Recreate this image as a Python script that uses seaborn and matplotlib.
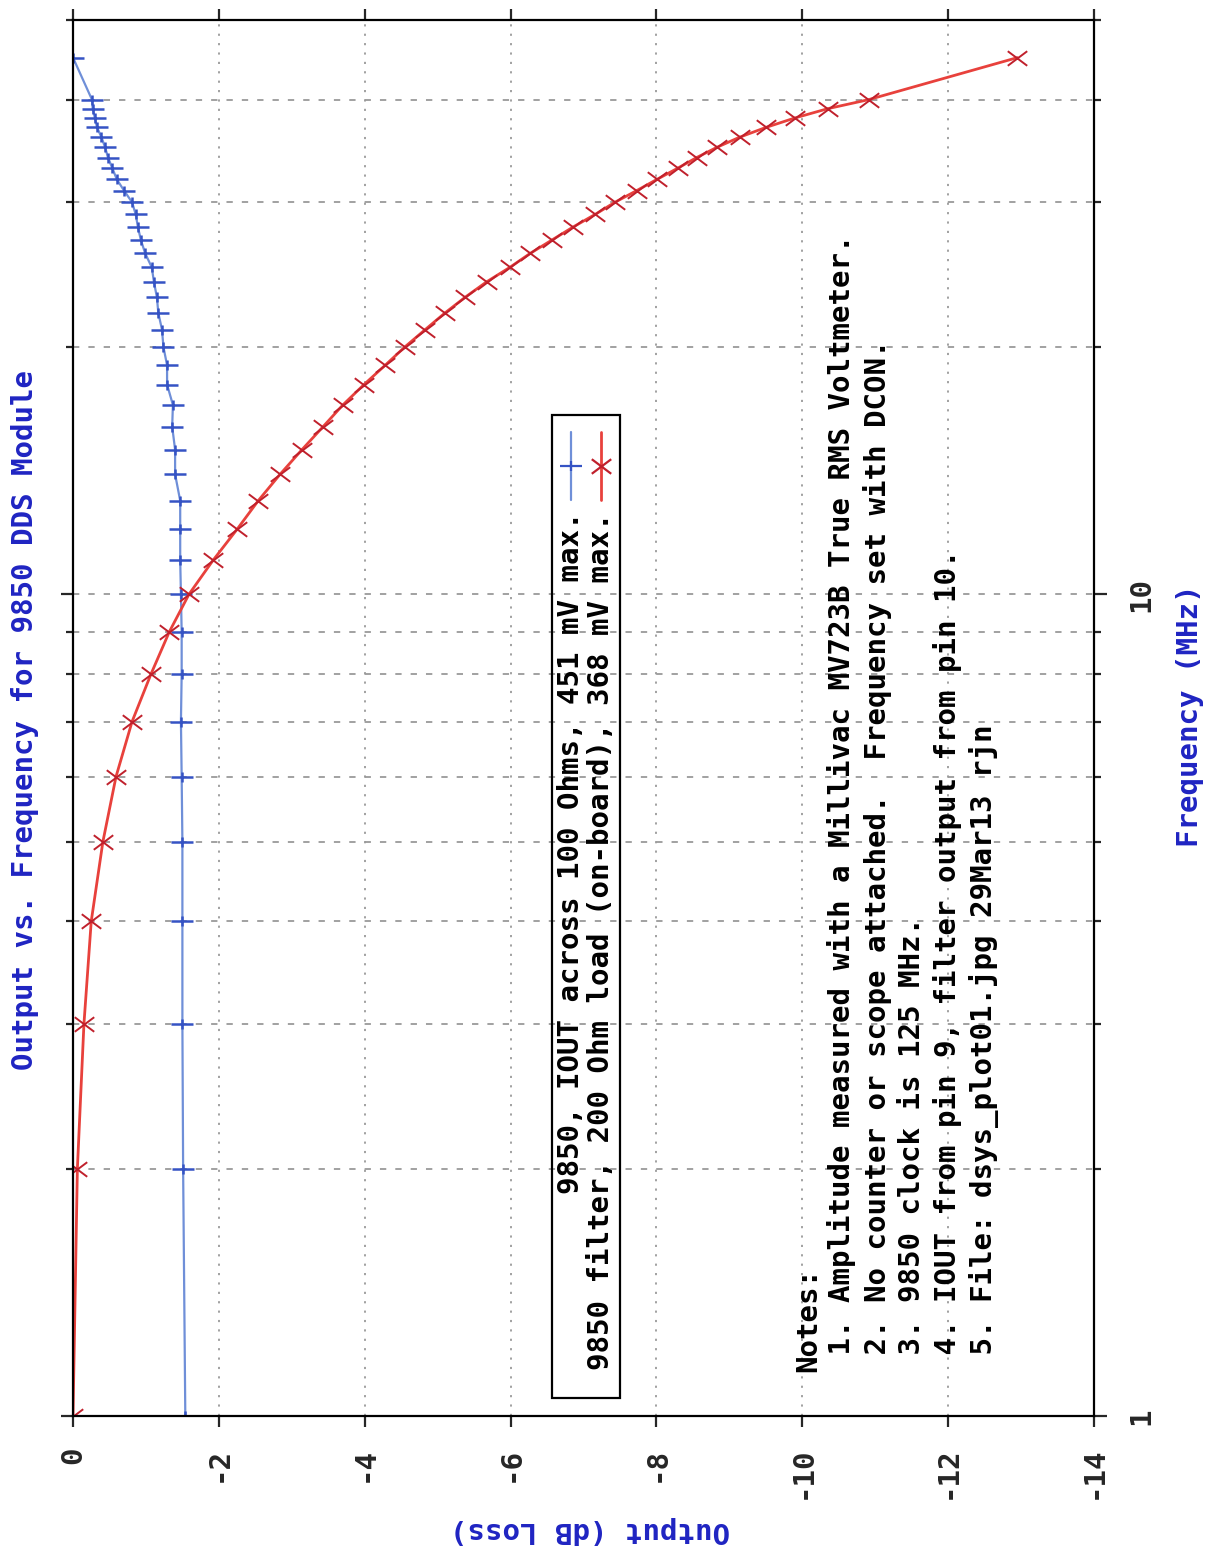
import matplotlib
matplotlib.use("Agg")
import numpy as np
import pandas as pd
import matplotlib.pyplot as plt
import matplotlib.ticker as mticker
from matplotlib.path import Path
from matplotlib.lines import Line2D
from matplotlib.patches import Rectangle
import seaborn as sns

# -----------------------------------------------------------------------------
# Data
# -----------------------------------------------------------------------------
freq_mhz = [1, 2, 3, 4, 5, 6, 7, 8, 9, 10,
            11, 12, 13, 14, 15, 16, 17, 18, 19, 20,
            21, 22, 23, 24, 25, 26, 27, 28, 29, 30,
            31, 32, 33, 34, 35, 36, 37, 38, 39, 40, 45]

iout_db = [-1.54, -1.51, -1.50, -1.50, -1.50, -1.49, -1.48, -1.49, -1.49, -1.48,
           -1.47, -1.47, -1.47, -1.40, -1.40, -1.36, -1.37, -1.29, -1.29, -1.24,
           -1.22, -1.17, -1.15, -1.11, -1.08, -0.99, -0.93, -0.89, -0.86, -0.81,
           -0.70, -0.60, -0.54, -0.48, -0.44, -0.39, -0.33, -0.30, -0.27, -0.26, 0.0]

filter_db = [0.0, -0.06, -0.15, -0.25, -0.41, -0.59, -0.81, -1.07, -1.32, -1.59,
             -1.92, -2.25, -2.54, -2.84, -3.14, -3.43, -3.70, -3.99, -4.28, -4.55,
             -4.83, -5.10, -5.38, -5.67, -5.99, -6.27, -6.57, -6.86, -7.16, -7.43,
             -7.73, -8.01, -8.29, -8.55, -8.83, -9.14, -9.50, -9.90, -10.35, -10.91, -12.95]

db_ticks = [0, -2, -4, -6, -8, -10, -12, -14]
db_tick_labels = ["0", "-2", "-4", "-6", "-8", "-10", "-12", "-14"]
freq_major = [1, 10]
freq_major_labels = ["1", "10"]
freq_minor = [2, 3, 4, 5, 6, 7, 8, 9, 20, 30, 40, 50]

legend_labels = ["9850, IOUT across 100 Ohms, 451 mV max.",
                 "9850 filter, 200 Ohm load (on-board), 368 mV max."]

notes_lines = ["Notes:",
               " 1. Amplitude measured with a Millivac MV723B True RMS Voltmeter.",
               " 2. No counter or scope attached.  Frequency set with DCON.",
               " 3. 9850 clock is 125 MHz.",
               " 4. IOUT from pin 9, filter output from pin 10.",
               " 5. File: dsys_plot01.jpg 29Mar13 rjn"]

title_text = "Output vs. Frequency for 9850 DDS Module"
freq_label = "Frequency (MHz)"
out_label = "Output (dB Loss)"

# -----------------------------------------------------------------------------
# Style
# -----------------------------------------------------------------------------
W, H = 1206, 1550
BLUE_LINE = "#6f8fd8"
BLUE_MARK = "#3553c4"
RED_LINE = "#e8413c"
RED_MARK = "#c0202c"
TEXT_BLUE = "#1f24c2"
GRID = "#9a9a9a"
FS = 21

sns.set_style("white")
plt.rcParams["font.family"] = ["DejaVu Sans Mono", "DejaVu Sans"]
plt.rcParams["font.weight"] = "bold"

# custom markers (rotated gnuplot look)
plus_mk = Path([(-1, 0), (1, 0), (0, -0.45), (0, 0.45)],
               [Path.MOVETO, Path.LINETO, Path.MOVETO, Path.LINETO])
cross_mk = Path([(-1, -0.75), (1, 0.75), (-1, 0.75), (1, -0.75)],
                [Path.MOVETO, Path.LINETO, Path.MOVETO, Path.LINETO])


def fx(px):
    return px / W


def fy(py):
    return 1 - py / H


df = pd.DataFrame({
    "freq": freq_mhz * 2,
    "db": iout_db + filter_db,
    "series": ["iout"] * len(freq_mhz) + ["filter"] * len(freq_mhz),
})

fig = plt.figure(figsize=(W / 100, H / 100), dpi=100)
ax = fig.add_axes([fx(73), fy(1416), fx(1094) - fx(73), fy(20) - fy(1416)])

sns.lineplot(data=df[df["series"] == "iout"], x="db", y="freq", orient="y",
             estimator=None, sort=False, color=BLUE_LINE, lw=1.6,
             marker=plus_mk, markersize=16, markeredgecolor=BLUE_MARK,
             markeredgewidth=1.8, ax=ax, legend=False)
sns.lineplot(data=df[df["series"] == "filter"], x="db", y="freq", orient="y",
             estimator=None, sort=False, color=RED_LINE, lw=2.0,
             marker=cross_mk, markersize=14, markeredgecolor=RED_MARK,
             markeredgewidth=1.4, ax=ax, legend=False)

ax.set_yscale("log")
ax.set_ylim(1, 50)
ax.set_xlim(0, -14)

ax.xaxis.set_major_locator(mticker.FixedLocator(db_ticks))
ax.set_xticklabels(db_tick_labels)
ax.yaxis.set_major_locator(mticker.FixedLocator(freq_major))
ax.yaxis.set_major_formatter(mticker.FixedFormatter(freq_major_labels))
ax.yaxis.set_minor_locator(mticker.FixedLocator(freq_minor))
ax.yaxis.set_minor_formatter(mticker.NullFormatter())

ax.set_xlabel("")
ax.set_ylabel("")

ax.grid(axis="x", which="major", ls=(0, (1.2, 4)), color=GRID, lw=1.3)
ax.grid(axis="y", which="both", ls=(0, (3.5, 5)), color=GRID, lw=1.3)

for s in ax.spines.values():
    s.set_linewidth(1.6)
    s.set_color("black")

ax.tick_params(axis="x", which="major", direction="out", length=8, width=1.6,
               top=True, bottom=True, labelrotation=90, labelsize=FS, pad=14)
ax.tick_params(axis="y", which="major", direction="out", length=9, width=1.6,
               left=True, right=True, labelleft=False, labelright=True,
               labelrotation=90, labelsize=FS, pad=15)
ax.tick_params(axis="y", which="minor", direction="out", length=5, width=1.6,
               left=True, right=True)
for lbl in ax.get_yticklabels():
    lbl.set_va("center")
for lbl in ax.get_xticklabels() + ax.get_yticklabels():
    lbl.set_fontweight("bold")

# -----------------------------------------------------------------------------
# Legend box (drawn rotated, like the source image)
# -----------------------------------------------------------------------------
fig.patches.append(Rectangle((fx(552), fy(1398)), fx(620) - fx(552), fy(415) - fy(1398),
                             transform=fig.transFigure, fill=False,
                             edgecolor="black", lw=1.6))
leg_rows = [(571, BLUE_LINE, BLUE_MARK, plus_mk, 16, 1.6),
            (601, RED_LINE, RED_MARK, cross_mk, 14, 2.0)]
for (xc, lc, mc, mk, ms, lw), txt in zip(leg_rows, legend_labels):
    fig.lines.append(Line2D([fx(xc), fx(xc)], [fy(500), fy(432)],
                            transform=fig.transFigure, color=lc, lw=lw))
    fig.lines.append(Line2D([fx(xc)], [fy(466)], transform=fig.transFigure,
                            marker=mk, markersize=ms, markeredgecolor=mc,
                            markeredgewidth=1.6, color=lc, lw=0))
    fig.text(fx(xc), fy(512), txt, rotation=90, rotation_mode="anchor",
             ha="right", va="center", fontsize=FS, fontweight="bold", color="black")

# -----------------------------------------------------------------------------
# Notes
# -----------------------------------------------------------------------------
note_x = [808, 842, 877, 912, 948, 984]
for xc, line in zip(note_x, notes_lines):
    fig.text(fx(xc), fy(1372), line, rotation=90, rotation_mode="anchor",
             ha="left", va="center", fontsize=FS, fontweight="bold", color="black")

# -----------------------------------------------------------------------------
# Titles
# -----------------------------------------------------------------------------
fig.text(fx(25), fy(720), title_text, rotation=90, ha="center", va="center",
         fontsize=FS, fontweight="bold", color=TEXT_BLUE)
fig.text(fx(1190), fy(716), freq_label, rotation=90, ha="center", va="center",
         fontsize=FS, fontweight="bold", color=TEXT_BLUE)
fig.text(fx(590), fy(1530), out_label, rotation=180, ha="center", va="center",
         fontsize=FS, fontweight="bold", color=TEXT_BLUE)

fig.savefig("out.png", dpi=100)
